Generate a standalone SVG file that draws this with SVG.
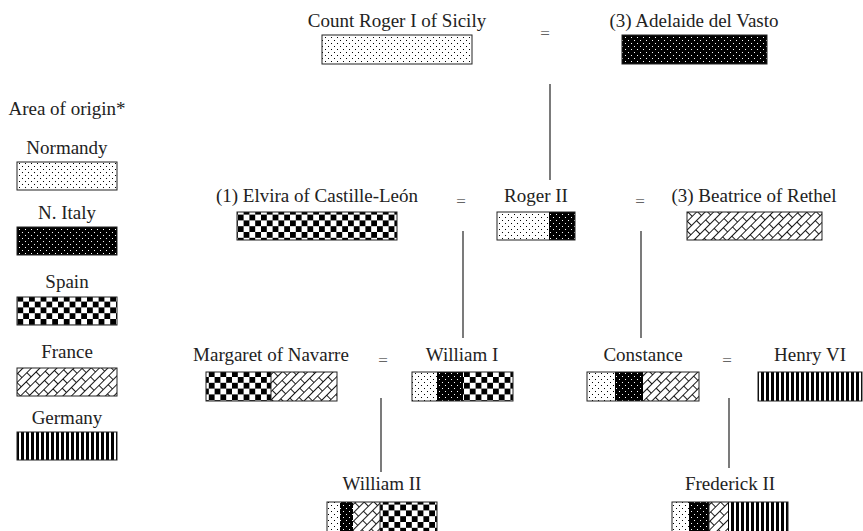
<svg xmlns="http://www.w3.org/2000/svg" width="863" height="531" viewBox="0 0 863 531">
<style>
text{font-family:"Liberation Serif","DejaVu Serif","Times New Roman",serif;font-size:19px;fill:#222;text-anchor:middle}
.eq{font-size:17px;fill:#666}
.box{fill:none;stroke:#222;stroke-width:1}
.sep{stroke:#222;stroke-width:1}
.conn line{stroke:#222;stroke-width:1.2}
</style>
<defs>
<pattern id="normandy" width="6" height="6" patternUnits="userSpaceOnUse">
<rect width="6" height="6" fill="#fff"/>
<rect x="1" y="1" width="1" height="1" fill="#000"/>
<rect x="4" y="4" width="1" height="1" fill="#000"/>
</pattern>
<pattern id="italy" width="6" height="6" patternUnits="userSpaceOnUse">
<rect width="6" height="6" fill="#000"/>
<rect x="1" y="1" width="1" height="1" fill="#fff"/>
<rect x="4" y="4" width="1" height="1" fill="#fff"/>
</pattern>
<pattern id="spain" width="11.6" height="11.6" patternUnits="userSpaceOnUse">
<rect width="11.6" height="11.6" fill="#fff"/>
<rect width="5.8" height="5.8" fill="#000"/>
<rect x="5.8" y="5.8" width="5.8" height="5.8" fill="#000"/>
</pattern>
<pattern id="france" width="14" height="12" patternUnits="userSpaceOnUse" patternTransform="rotate(-45)">
<rect width="14" height="12" fill="#fff"/>
<path d="M0 0.5H14M0 6.5H14M0.5 0.5V6.5M7.5 6.5V12" stroke="#000" stroke-width="0.9" fill="none"/>
</pattern>
<pattern id="germany" width="5" height="5" patternUnits="userSpaceOnUse">
<rect width="5" height="5" fill="#fff"/>
<rect x="1" width="3" height="5" fill="#000"/>
</pattern>
</defs>
<rect width="863" height="531" fill="#fff"/>

<g id="legend" font-family="Liberation Serif, serif">
<text x="67" y="115">Area of origin*</text>
<text x="67" y="154">Normandy</text>
<rect x="17" y="162" width="100" height="28" fill="url(#normandy)"/><rect class="box" x="17" y="162" width="100" height="28"/>
<text x="67" y="219">N. Italy</text>
<rect x="17" y="227" width="100" height="28" fill="url(#italy)"/><rect class="box" x="17" y="227" width="100" height="28"/>
<text x="67" y="288">Spain</text>
<rect x="17" y="297" width="100" height="28" fill="url(#spain)"/><rect class="box" x="17" y="297" width="100" height="28"/>
<text x="67" y="358">France</text>
<rect x="17" y="368" width="100" height="28" fill="url(#france)"/><rect class="box" x="17" y="368" width="100" height="28"/>
<text x="67" y="424">Germany</text>
<rect x="17" y="432" width="100" height="28" fill="url(#germany)"/><rect class="box" x="17" y="432" width="100" height="28"/>
</g>

<g class="conn" id="connectors">
<line x1="550" y1="84" x2="550" y2="180"/>
<line x1="463" y1="231" x2="463" y2="338"/>
<line x1="641" y1="231" x2="641" y2="338"/>
<line x1="381" y1="398" x2="381" y2="472"/>
<line x1="729" y1="398" x2="729" y2="468"/>
</g>

<g id="marriages">
<text class="eq" x="545" y="39">=</text>
<text class="eq" x="461" y="207">=</text>
<text class="eq" x="640" y="207">=</text>
<text class="eq" x="383" y="366">=</text>
<text class="eq" x="727" y="366">=</text>
</g>

<g id="roger1">
<text x="397" y="27">Count Roger I of Sicily</text>
<rect x="322" y="35" width="150" height="29" fill="url(#normandy)"/><rect class="box" x="322" y="35" width="150" height="29"/>
</g>
<g id="adelaide">
<text x="694" y="27">(3) Adelaide del Vasto</text>
<rect x="622" y="35" width="145" height="29" fill="url(#italy)"/><rect class="box" x="622" y="35" width="145" height="29"/>
</g>

<g id="elvira">
<text x="317" y="202">(1) Elvira of Castille-León</text>
<rect x="237" y="212" width="160" height="28" fill="url(#spain)"/><rect class="box" x="237" y="212" width="160" height="28"/>
</g>
<g id="roger2">
<text x="536" y="202">Roger II</text>
<rect x="497" y="212" width="52" height="28" fill="url(#normandy)"/>
<rect x="549" y="212" width="26" height="28" fill="url(#italy)"/>
<rect class="box" x="497" y="212" width="78" height="28"/>
</g>
<g id="beatrice">
<text x="754" y="202">(3) Beatrice of Rethel</text>
<rect x="687" y="212" width="135" height="28" fill="url(#france)"/><rect class="box" x="687" y="212" width="135" height="28"/>
</g>

<g id="margaret">
<text x="271" y="361">Margaret of Navarre</text>
<rect x="206" y="372" width="65" height="29" fill="url(#spain)"/>
<rect x="271" y="372" width="66" height="29" fill="url(#france)"/>
<line class="sep" x1="271" y1="372" x2="271" y2="401"/>
<rect class="box" x="206" y="372" width="131" height="29"/>
</g>
<g id="william1">
<text x="462" y="361">William I</text>
<rect x="412" y="372" width="25" height="29" fill="url(#normandy)"/>
<rect x="437" y="372" width="26" height="29" fill="url(#italy)"/>
<rect x="463" y="372" width="50" height="29" fill="url(#spain)"/>
<rect class="box" x="412" y="372" width="101" height="29"/>
</g>
<g id="constance">
<text x="643" y="361">Constance</text>
<rect x="587" y="372" width="28" height="29" fill="url(#normandy)"/>
<rect x="615" y="372" width="28" height="29" fill="url(#italy)"/>
<rect x="643" y="372" width="56" height="29" fill="url(#france)"/>
<rect class="box" x="587" y="372" width="112" height="29"/>
</g>
<g id="henry">
<text x="810" y="361">Henry VI</text>
<rect x="758" y="372" width="104" height="29" fill="url(#germany)"/><rect class="box" x="758" y="372" width="104" height="29"/>
</g>

<g id="william2">
<text x="382" y="490">William II</text>
<rect x="327" y="502" width="13" height="29" fill="url(#normandy)"/>
<rect x="340" y="502" width="13" height="29" fill="url(#italy)"/>
<rect x="353" y="502" width="27" height="29" fill="url(#france)"/>
<rect x="380" y="502" width="57" height="29" fill="url(#spain)"/>
<line class="sep" x1="380" y1="502" x2="380" y2="531"/>
<rect class="box" x="327" y="502" width="110" height="30"/>
</g>
<g id="frederick">
<text x="730" y="490">Frederick II</text>
<rect x="672" y="502" width="17" height="29" fill="url(#normandy)"/>
<rect x="689" y="502" width="20" height="29" fill="url(#italy)"/>
<rect x="709" y="502" width="19" height="29" fill="url(#france)"/>
<rect x="728" y="502" width="60" height="29" fill="url(#germany)"/>
<line class="sep" x1="709" y1="502" x2="709" y2="531"/>
<rect class="box" x="672" y="502" width="116" height="30"/>
</g>
</svg>
